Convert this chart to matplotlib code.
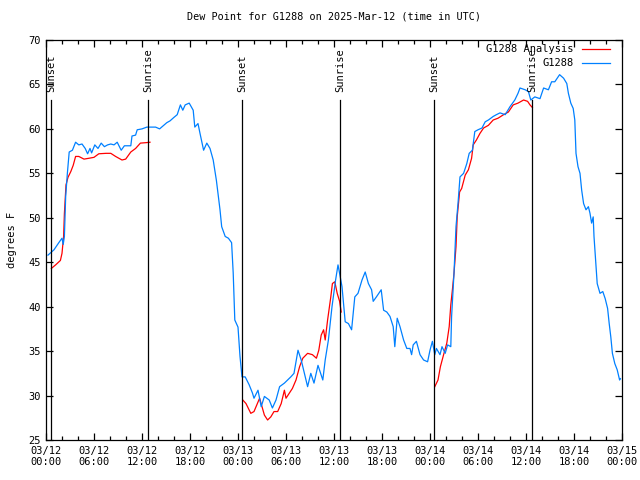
import numpy as np
import matplotlib
matplotlib.use("Agg")
import matplotlib.pyplot as plt
from matplotlib.ticker import MultipleLocator

# hours since 03/12 00:00 UTC
g1288_hours = [0.25, 1.0, 1.6, 2.0, 2.15, 2.3, 2.46, 2.67, 2.9, 3.3, 3.7, 4.1, 4.5, 4.9, 5.2, 5.5,
               5.7, 6.1, 6.5, 6.9, 7.3, 7.7, 8.1, 8.5, 8.9, 9.4, 9.8, 10.6, 10.75, 11.2, 11.4, 12.0,
               12.6, 13.7, 14.2, 15.1, 15.5, 16.0, 16.4, 16.8, 17.1, 17.4, 17.9, 18.4, 18.6, 19.0,
               19.25, 19.7, 20.1, 20.5, 20.9, 21.3, 21.75, 21.96, 22.4, 22.8, 23.2, 23.4, 23.6, 24.0,
               24.25, 24.5, 24.9, 25.4, 25.8, 26.0, 26.5, 26.9, 27.3, 27.9, 28.3, 28.75, 29.2, 29.8,
               30.2, 30.6, 31.0, 31.5, 31.9, 32.3, 32.7, 33.1, 33.5, 34.0, 34.6, 34.9, 35.3, 35.75,
               36.2, 36.5, 36.7, 37.0, 37.4, 37.8, 38.2, 38.6, 39.0, 39.5, 39.9, 40.3, 40.7, 40.9,
               41.3, 41.9, 42.2, 42.6, 43.0, 43.4, 43.6, 43.9, 44.25, 44.7, 45.1, 45.5, 45.7, 45.9,
               46.3, 46.75, 47.2, 47.7, 48.0, 48.3, 48.6, 48.8, 49.25, 49.5, 49.9, 50.2, 50.6, 50.7,
               51.0, 51.25, 51.5, 51.75, 52.2, 52.6, 52.9, 53.3, 53.6, 54.0, 54.5, 54.9, 55.3, 55.9,
               56.3, 56.75, 57.4, 58.0, 58.6, 59.0, 59.25, 59.9, 60.3, 60.6, 61.1, 61.75, 62.2, 62.8,
               63.2, 63.6, 64.2, 64.7, 65.1, 65.3, 65.6, 65.9, 66.1, 66.25, 66.5, 66.75, 66.96, 67.2,
               67.5, 67.8, 68.0, 68.2, 68.4, 68.5, 68.75, 68.9, 69.25, 69.6, 69.9, 70.2, 70.4, 70.6,
               70.8, 71.1, 71.4, 71.7, 71.8]
g1288_dewpt = [45.8, 46.4, 47.2, 47.7, 47.0, 47.9, 52.4, 55.0, 57.4, 57.6, 58.5, 58.2, 58.3, 57.8, 57.2, 57.8,
               57.3, 58.2, 57.8, 58.4, 58.0, 58.2, 58.3, 58.2, 58.5, 57.6, 58.1, 58.1, 59.2, 59.3, 59.9, 60.0,
               60.2, 60.2, 60.0, 60.7, 60.9, 61.3, 61.6, 62.7, 62.1, 62.7, 62.9, 62.1, 60.2, 60.6,
               59.5, 57.6, 58.4, 57.8, 56.5, 54.2, 50.9, 49.0, 47.9, 47.7, 47.2, 43.8, 38.5, 37.7,
               34.4, 32.1, 32.1, 31.2, 30.3, 29.7, 30.6, 28.75, 29.9, 29.5, 28.6, 29.5, 31.0, 31.4,
               31.75, 32.1, 32.5, 35.1, 34.0, 32.5, 31.0, 32.5, 31.4, 33.4, 31.75, 34.0, 36.25, 40.0,
               43.0, 44.7, 43.75, 42.25, 38.3, 38.1, 37.4, 41.1, 41.5, 43.0, 43.9, 42.6, 41.9, 40.6,
               41.1, 41.9, 39.6, 39.4, 38.9, 37.75, 35.5, 38.7, 37.75, 36.25, 35.3, 35.3, 34.6, 35.7,
               36.1, 34.6, 34.0, 33.8, 35.1, 36.1, 34.6, 35.3, 34.6, 35.5, 34.75, 35.7, 35.5, 38.9,
               43.75, 49.0, 51.6, 54.6, 55.0, 56.1, 57.25, 57.6, 59.7, 59.9, 60.1, 60.8, 61.0, 61.4,
               61.6, 61.8, 61.6, 62.5, 63.25, 64.0, 64.6, 64.4, 64.2, 63.25, 63.6, 63.4, 64.6, 64.4,
               65.3, 65.3, 66.1, 65.7, 65.1, 64.0, 62.9, 62.3, 61.0, 57.25, 55.75, 55.0, 53.1, 51.6,
               50.9, 51.25, 50.5, 49.4, 50.1, 47.9, 44.5, 42.6, 41.5, 41.7, 40.9, 39.8, 38.1, 36.6,
               34.75, 33.6, 32.9, 31.75, 31.9]

analysis_hours = [0.67, 1.2, 1.8, 2.0, 2.2, 2.3, 2.5, 2.75, 3.1, 3.4, 3.7, 4.1, 4.75, 5.4, 6.0, 6.6,
                  7.5, 8.1, 8.7, 9.5, 9.96, 10.6, 11.2, 11.8, 12.5, 13.0, 18.0,
                  24.6, 25.0, 25.6, 26.0, 26.7, 27.0, 27.3, 27.7, 28.1, 28.5, 28.96, 29.4, 29.8, 30.0,
                  30.4, 30.8, 31.25, 31.7, 32.1, 32.7, 33.3, 33.8, 34.1, 34.4, 34.7, 34.9, 35.2, 35.6,
                  35.8, 36.1, 36.4, 36.7, 36.9, 42.0,
                  48.6, 49.0, 49.3, 49.7, 50.1, 50.4, 50.6, 50.8, 51.0, 51.25, 51.4, 51.7, 51.96, 52.4,
                  52.8, 53.2, 53.4, 53.8, 54.25, 54.7, 55.3, 55.9, 56.5, 57.2, 57.8, 58.4, 59.0, 59.7,
                  60.2, 60.5, 60.8]
analysis_dewpt = [44.3, 44.7, 45.2, 46.0, 47.9, 50.5, 53.7, 54.55, 55.2, 55.9, 56.9, 56.9, 56.6, 56.7, 56.8, 57.2,
                  57.25, 57.25, 56.9, 56.5, 56.6, 57.4, 57.8, 58.4, 58.45, 58.5, np.nan,
                  29.5, 29.1, 28.0, 28.2, 29.7, 28.75, 27.8, 27.25, 27.6, 28.2, 28.2, 29.1, 30.6, 29.7,
                  30.25, 30.8, 31.75, 33.25, 34.2, 34.75, 34.6, 34.2, 35.1, 36.8, 37.4, 36.25, 38.5, 41.1,
                  42.6, 42.8, 41.5, 40.6, 39.4, np.nan,
                  31.0, 31.75, 33.25, 34.6, 35.9, 37.75, 40.2, 41.9, 43.75, 46.75, 50.1, 52.9, 53.3, 54.8,
                  55.4, 56.7, 58.2, 58.75, 59.5, 60.1, 60.4, 61.0, 61.2, 61.6, 61.9, 62.7, 62.9, 63.25,
                  63.1, 62.7, 62.4]

sun_hours = [0.6, 12.78, 24.55, 36.75, 48.55, 60.8]
sun_labels = ["Sunset", "Sunrise", "Sunset", "Sunrise", "Sunset", "Sunrise"]

tick_hours = list(range(0, 73, 6))
tick_labels = ["03/12\n00:00", "03/12\n06:00", "03/12\n12:00", "03/12\n18:00",
               "03/13\n00:00", "03/13\n06:00", "03/13\n12:00", "03/13\n18:00",
               "03/14\n00:00", "03/14\n06:00", "03/14\n12:00", "03/14\n18:00",
               "03/15\n00:00"]

plt.rcParams['font.family'] = ['DejaVu Sans Mono']
plt.rcParams['font.size'] = 7.5

fig = plt.figure(figsize=(6.4, 4.8), dpi=100)
ax = fig.add_axes([46 / 640, 40 / 480, 576 / 640, 400 / 480])

red = '#ff0000'
blue = '#0080ff'
ax.plot(analysis_hours, analysis_dewpt, color=red, lw=0.9)
ax.plot(g1288_hours, g1288_dewpt, color=blue, lw=0.9)

for h, lab in zip(sun_hours, sun_labels):
    ax.axvline(h, ymin=0, ymax=0.85, color='k', lw=0.9)
    ax.text(h, 0.87, lab, transform=ax.get_xaxis_transform(), rotation=90,
            ha='center', va='bottom')

ax.set_xlim(0, 72)
ax.set_ylim(25, 70)
ax.set_xticks(tick_hours)
ax.set_xticklabels(tick_labels)
ax.xaxis.set_minor_locator(MultipleLocator(2))
ax.set_yticks(range(25, 71, 5))
ax.tick_params(which='both', direction='in', top=True, right=True, pad=4)
ax.tick_params(which='major', length=5, width=0.9)
ax.tick_params(which='minor', length=3, width=0.9)
for s in ax.spines.values():
    s.set_linewidth(0.9)

ax.set_title("Dew Point for G1288 on 2025-Mar-12 (time in UTC)", fontsize=7.3, pad=15)
ax.set_ylabel("degrees F", labelpad=8)

# legend, gnuplot style (right-aligned text, sample line on the right)
leg = [("G1288 Analysis", red), ("G1288", blue)]
for i, (lab, c) in enumerate(leg):
    yy = 0.978 - i * 0.036
    ax.text(0.916, yy, lab, transform=ax.transAxes, ha='right', va='center')
    ax.plot([0.93, 0.979], [yy, yy], transform=ax.transAxes, color=c, lw=0.9)

fig.savefig('out.png', dpi=100)
